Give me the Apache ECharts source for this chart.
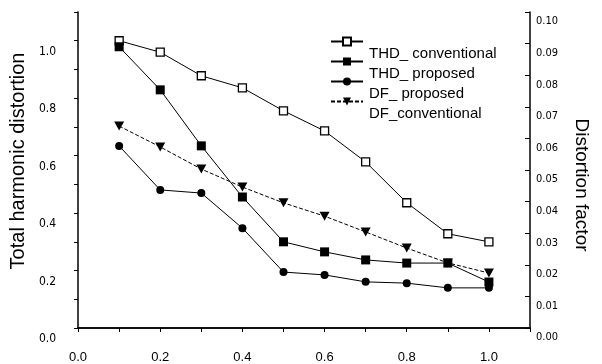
<!DOCTYPE html>
<html>
<head>
<meta charset="utf-8">
<script src="https://cdn.jsdelivr.net/npm/echarts@6/dist/echarts.min.js"></script>
<style>
  html, body { margin: 0; padding: 0; background: #fff; }
  #chart { width: 602px; height: 364px; }
</style>
</head>
<body>
<div id="chart"></div>
<script>
// Load factor (x) and measured distortion for each control scheme
const loadFactor = [0.1, 0.2, 0.3, 0.4, 0.5, 0.6, 0.7, 0.8, 0.9, 1.0];
const thdConventional = [1.00, 0.96, 0.878, 0.836, 0.756, 0.686, 0.578, 0.436, 0.328, 0.30];
const thdProposed = [0.979, 0.829, 0.634, 0.456, 0.30, 0.265, 0.237, 0.226, 0.226, 0.16];
const dfProposed = [0.0576, 0.0437, 0.0427, 0.0316, 0.0177, 0.0168, 0.0146, 0.0142, 0.0127, 0.0127];
const dfConventional = [0.0639, 0.0573, 0.0503, 0.0446, 0.0396, 0.0354, 0.0304, 0.0253, 0.0206, 0.0174];

const seriesNames = ['THD_ conventional', 'THD_ proposed', 'DF_ proposed', 'DF_conventional'];

const FONT = '"Liberation Sans", Arial, sans-serif';
const NARROW = '"Liberation Sans Narrow", "DejaVu Sans Condensed", "Liberation Sans", sans-serif';

function pairs(values) {
  return loadFactor.map((x, i) => [x, values[i]]);
}

const chart = echarts.init(document.getElementById('chart'), null, { renderer: 'canvas' });

const baseLine = { color: '#000', width: 1 };

// The key is drawn as two stacked legends: one carries the line/marker
// swatches, the other the names, set a little lower and to the right.
const legendText = { fontFamily: FONT, fontSize: 15, lineHeight: 15 };

chart.setOption({
  animation: false,
  backgroundColor: '#fff',
  grid: { left: 78, right: 72, top: 12, bottom: 36 },
  legend: [
    {
      orient: 'vertical',
      left: 325,
      top: 29,
      itemWidth: 32,
      itemHeight: 10,
      itemGap: 5,
      data: seriesNames,
      selectedMode: false,
      textStyle: Object.assign({ color: 'rgba(0,0,0,0)' }, legendText)
    },
    {
      orient: 'vertical',
      left: 328,
      top: 41,
      itemWidth: 30,
      itemHeight: 10,
      itemGap: 5,
      icon: 'rect',
      selectedMode: false,
      itemStyle: { opacity: 0 },
      lineStyle: { opacity: 0 },
      data: seriesNames,
      textStyle: Object.assign({ color: '#000' }, legendText)
    }
  ],
  xAxis: [
    {
      type: 'value',
      min: 0,
      max: 1.1,
      interval: 0.1,
      position: 'bottom',
      axisLine: { show: true, onZero: false, lineStyle: { color: '#000', width: 1.5 } },
      axisTick: { show: true, inside: false, length: 4, lineStyle: { color: '#000' } },
      splitLine: { show: false },
      axisLabel: {
        margin: 23,
        fontFamily: FONT,
        fontSize: 13,
        color: '#000',
        formatter: v => {
          const k = Math.round(v * 10);
          return (k % 2 === 0 && k <= 10) ? (k / 10).toFixed(1) : '';
        }
      }
    },
    {
      type: 'value',
      min: 0,
      max: 1.1,
      interval: 0.1,
      position: 'top',
      axisLine: { show: true, lineStyle: { color: '#000', width: 1.5 } },
      axisTick: { show: true, inside: true, length: 4, lineStyle: { color: '#000' } },
      axisLabel: { show: false },
      splitLine: { show: false }
    }
  ],
  yAxis: [
    {
      type: 'value',
      min: 0,
      max: 1.1,
      interval: 0.1,
      position: 'left',
      name: 'Total harmonic distortion',
      nameLocation: 'middle',
      nameGap: 43,
      nameRotate: 90,
      nameTextStyle: { fontFamily: FONT, fontSize: 20, color: '#000', padding: [0, 0, 0, 18] },
      axisLine: { show: true, onZero: false, lineStyle: { color: '#000', width: 1.5 } },
      axisTick: { show: true, inside: false, length: 4, lineStyle: { color: '#000' } },
      splitLine: { show: false },
      axisLabel: {
        margin: 22,
        fontFamily: NARROW,
        fontSize: 12,
        color: '#000',
        verticalAlign: 'top',
        padding: [5, 0, 0, 0],
        formatter: v => {
          const k = Math.round(v * 10);
          return (k % 2 === 0 && k <= 10) ? (k / 10).toFixed(1) : '';
        }
      }
    },
    {
      type: 'value',
      min: 0,
      max: 0.1,
      interval: 0.01,
      position: 'right',
      name: 'Distortion factor',
      nameLocation: 'middle',
      nameGap: 42,
      nameRotate: -90,
      nameTextStyle: { fontFamily: FONT, fontSize: 19, color: '#000', padding: [0, 0, 0, 30] },
      axisLine: { show: true, onZero: false, lineStyle: { color: '#000', width: 1.5 } },
      axisTick: { show: true, inside: true, length: 5, lineStyle: { color: '#000' } },
      splitLine: { show: false },
      axisLabel: {
        margin: 6,
        fontFamily: NARROW,
        fontSize: 11,
        color: '#000',
        verticalAlign: 'top',
        padding: [4, 0, 0, 0],
        formatter: v => v.toFixed(2)
      }
    }
  ],
  series: [
    {
      name: seriesNames[0],
      type: 'line',
      xAxisIndex: 0,
      yAxisIndex: 0,
      data: pairs(thdConventional),
      symbol: 'rect',
      symbolSize: 8,
      lineStyle: baseLine,
      itemStyle: { color: '#fff', borderColor: '#000', borderWidth: 1.3 }
    },
    {
      name: seriesNames[1],
      type: 'line',
      xAxisIndex: 0,
      yAxisIndex: 0,
      data: pairs(thdProposed),
      symbol: 'rect',
      symbolSize: 9,
      lineStyle: baseLine,
      itemStyle: { color: '#000' }
    },
    {
      name: seriesNames[2],
      type: 'line',
      xAxisIndex: 0,
      yAxisIndex: 1,
      data: pairs(dfProposed),
      symbol: 'circle',
      symbolSize: 8,
      lineStyle: baseLine,
      itemStyle: { color: '#000' }
    },
    {
      name: seriesNames[3],
      type: 'line',
      xAxisIndex: 0,
      yAxisIndex: 1,
      data: pairs(dfConventional),
      symbol: 'triangle',
      symbolRotate: 180,
      symbolSize: [10, 9],
      lineStyle: { color: '#000', width: 1, type: [4, 2] },
      itemStyle: { color: '#000' }
    }
  ]
});
</script>
</body>
</html>
